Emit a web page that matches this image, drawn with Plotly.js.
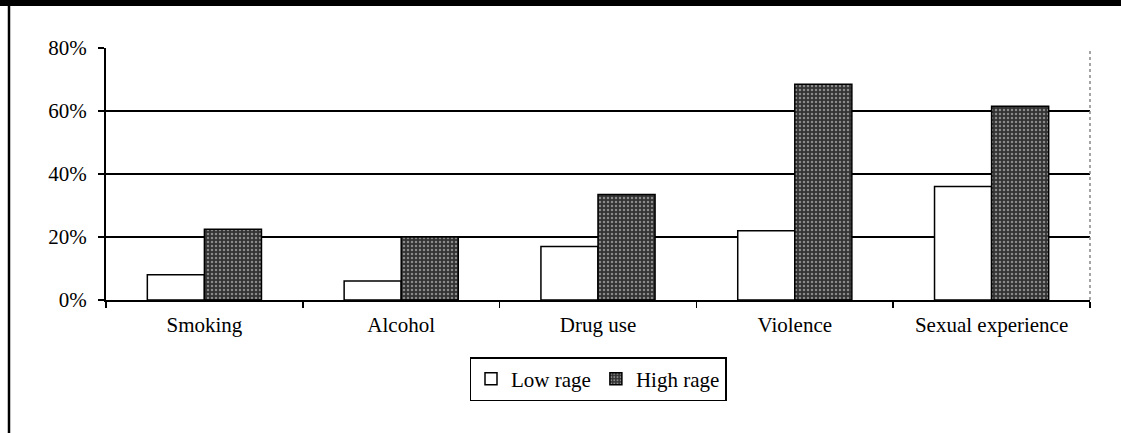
<!DOCTYPE html>
<html>
<head>
<meta charset="utf-8">
<script src="https://cdn.plot.ly/plotly-3.0.1.min.js"></script>
<style>
html,body{margin:0;padding:0;background:#fff;}
#chart{width:1121px;height:433px;}
</style>
</head>
<body>
<div id="chart"></div>
<script>
const categories = ["Smoking", "Alcohol", "Drug use", "Violence", "Sexual experience"];
const lowRage = [8, 6, 17, 22, 36];
const highRage = [22.5, 20, 33.5, 68.5, 61.5];
const seriesNames = ["Low rage", "High rage"];
const yTickVals = [0, 20, 40, 60, 80];
const yTickText = ["0%", "20%", "40%", "60%", "80%"];

const W = 1121, H = 433;
const m = {l: 106, r: 31, t: 48, b: 133};
const pw = W - m.l - m.r, ph = H - m.t - m.b;
const px = v => (v - m.l) / pw;
const py = v => (H - m.b - v) / ph;

const font = {family: "Liberation Serif, Times New Roman, serif", size: 21, color: "#000"};

const traces = [
  {
    type: "bar", name: seriesNames[0], x: categories, y: lowRage,
    marker: {color: "#ffffff", line: {color: "#000", width: 1.5}},
    hoverinfo: "skip"
  },
  {
    type: "bar", name: seriesNames[1], x: categories, y: highRage,
    marker: {color: "#444", line: {color: "#000", width: 1.5},
      pattern: {shape: ".", bgcolor: "#333", fgcolor: "#8a8a8a", size: 4, solidity: 0.3}},
    hoverinfo: "skip"
  }
];

const layout = {
  width: W, height: H,
  margin: m,
  paper_bgcolor: "#fff", plot_bgcolor: "#fff",
  font: font,
  barmode: "group",
  bargap: 0.42, bargroupgap: 0,
  showlegend: true,
  legend: {
    orientation: "h", x: 0.5, xanchor: "center", y: py(357), yanchor: "top",
    bordercolor: "#000", borderwidth: 1.5, font: font,
    itemwidth: 30, tracegroupgap: 0
  },
  xaxis: {
    type: "category", showline: true, linecolor: "#000", linewidth: 2,
    ticks: "outside", tickson: "boundaries", ticklen: 6, tickcolor: "#000", tickwidth: 1.5,
    showgrid: false, tickfont: font, fixedrange: true, ticklabelstandoff: 5
  },
  yaxis: {
    range: [0, 80], tickvals: yTickVals, ticktext: yTickText,
    showline: true, linecolor: "#000", linewidth: 2,
    ticks: "outside", ticklen: 6, tickcolor: "#000", tickwidth: 1.5,
    showgrid: true, gridcolor: "#000", gridwidth: 1.5,
    zeroline: false, tickfont: font, fixedrange: true, ticklabelstandoff: 7
  },
  shapes: [
    {type: "rect", xref: "paper", yref: "paper", x0: px(0), x1: px(W), y0: py(0), y1: py(6),
      fillcolor: "#000", line: {width: 0}, layer: "above"},
    {type: "line", xref: "paper", yref: "paper", x0: px(9), x1: px(9), y0: py(6), y1: py(H),
      line: {color: "#000", width: 2.5}},
    {type: "line", xref: "paper", yref: "paper", x0: 1, x1: 1, y0: 0, y1: 1,
      line: {color: "#888", width: 1.5, dash: "dot"}}
  ]
};

Plotly.newPlot("chart", traces, layout, {displayModeBar: false, staticPlot: true});
</script>
</body>
</html>
